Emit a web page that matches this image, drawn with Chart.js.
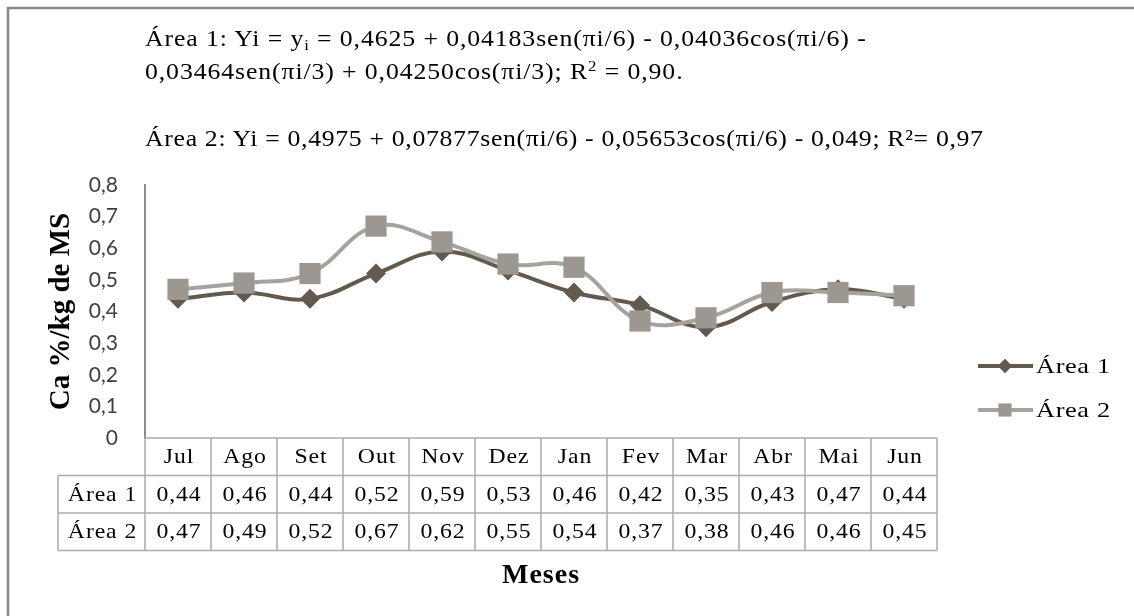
<!DOCTYPE html>
<html>
<head>
<meta charset="utf-8">
<script src="https://cdn.jsdelivr.net/npm/chart.js@4.4.1/dist/chart.umd.min.js"></script>
<style>
  html,body{margin:0;padding:0;background:#fff;}
  #wrap{position:relative;width:1134px;height:616px;overflow:hidden;}
  canvas{position:absolute;left:0;top:0;}
  .eq{position:absolute;left:145px;font-family:"Liberation Serif","Times New Roman",serif;
      font-size:23px;line-height:23px;color:#000;white-space:nowrap;letter-spacing:0.8px;
      transform:scaleX(1.12);transform-origin:0 0;}
  .eq sub{font-size:15px;vertical-align:-4px;line-height:0;}
  .eq sup{font-size:15px;vertical-align:8px;line-height:0;}
</style>
</head>
<body>
<div id="wrap">
  <canvas id="chart" width="1134" height="616"></canvas>
  <div class="eq" style="top:27px">Área 1: Yi = y<sub>i</sub> = 0,4625 + 0,04183sen(πi/6) - 0,04036cos(πi/6) -</div>
  <div class="eq" style="top:60px">0,03464sen(πi/3) + 0,04250cos(πi/3); R<sup>2</sup> = 0,90.</div>
  <div class="eq" style="top:127px;letter-spacing:0.6px">Área 2: Yi = 0,4975 + 0,07877sen(πi/6) - 0,05653cos(πi/6) - 0,049; R²= 0,97</div>
</div>
<script>
/* ========= DATA ========= */
const MONTHS = ["Jul","Ago","Set","Out","Nov","Dez","Jan","Fev","Mar","Abr","Mai","Jun"];
const AREA1  = [0.44,0.46,0.44,0.52,0.59,0.53,0.46,0.42,0.35,0.43,0.47,0.44];
const AREA2  = [0.47,0.49,0.52,0.67,0.62,0.55,0.54,0.37,0.38,0.46,0.46,0.45];
const Y_MIN = 0, Y_MAX = 0.8, Y_STEP = 0.1;

const C1 = "#625a4e", C2 = "#a6a39e", C2_MARK = "#9c9891";
const SERIF = '"Liberation Serif","Times New Roman",serif';
const fmt = v => v===0 ? "0" : v.toFixed(2).replace(".",",");

// wide text, like the original's stretched Times
function wideText(ctx, t, x, y, sx){
  ctx.save();
  ctx.translate(x, y);
  ctx.scale(sx, 1);
  ctx.fillText(t, 0, 0);
  ctx.restore();
}

/* ========= TABLE / LEGEND / FRAME ========= */
const extras = {
  id:"extras",
  afterDraw(chart){
    const {ctx, chartArea:a} = chart;
    const x = chart.scales.x;
    const n = MONTHS.length;
    const band = (a.right - a.left)/n;
    const rows = [a.bottom, a.bottom+37.5, a.bottom+75, a.bottom+112.5];
    const labelLeft = 58;

    ctx.save();
    // frame
    ctx.strokeStyle = "#888"; ctx.lineWidth = 2.5;
    ctx.beginPath(); ctx.moveTo(8,616); ctx.lineTo(8,8); ctx.lineTo(1134,8); ctx.stroke();

    // table grid
    ctx.strokeStyle = "#acacac"; ctx.lineWidth = 1.5;
    ctx.beginPath();
    ctx.moveTo(a.left, rows[0]); ctx.lineTo(a.right, rows[0]);
    for(let r=1;r<4;r++){ ctx.moveTo(labelLeft, rows[r]); ctx.lineTo(a.right, rows[r]); }
    ctx.moveTo(labelLeft, rows[1]); ctx.lineTo(labelLeft, rows[3]);
    for(let i=0;i<=n;i++){
      const px = a.left + i*band;
      ctx.moveTo(px, rows[0]); ctx.lineTo(px, rows[3]);
    }
    ctx.stroke();

    // table text
    ctx.fillStyle = "#000";
    ctx.font = "21px " + SERIF;
    ctx.textAlign = "center"; ctx.textBaseline = "middle";
    ctx.letterSpacing = "0.8px";
    const mid = r => (rows[r]+rows[r+1])/2 + 1;
    MONTHS.forEach((m,i)=>{
      const cx = x.getPixelForValue(i) + 1;
      wideText(ctx, m, cx, mid(0), 1.13);
      wideText(ctx, fmt(AREA1[i]), cx, mid(1), 1.13);
      wideText(ctx, fmt(AREA2[i]), cx, mid(2), 1.13);
    });
    wideText(ctx, chart.data.datasets[0].label, (labelLeft+a.left)/2 + 1, mid(1), 1.13);
    wideText(ctx, chart.data.datasets[1].label, (labelLeft+a.left)/2 + 1, mid(2), 1.13);

    // axis title
    ctx.font = "bold 28px " + SERIF;
    ctx.letterSpacing = "1px";
    ctx.fillText("Meses", 541, 576);

    // legend
    const leg = [[C1,C1,"rectRot",7,366],[C2,C2_MARK,"rect",9,410]];
    chart.data.datasets.forEach((ds,k)=>{
      const [lc,mc,ps,r,ly] = leg[k];
      ctx.strokeStyle = lc; ctx.lineWidth = 4;
      ctx.beginPath(); ctx.moveTo(978,ly); ctx.lineTo(1033,ly); ctx.stroke();
      ctx.fillStyle = mc;
      Chart.helpers.drawPoint(ctx,{pointStyle:ps,radius:r,borderWidth:0},1005,ly);
      ctx.fill();
      ctx.fillStyle = "#000";
      ctx.font = "22px " + SERIF;
      ctx.letterSpacing = "0.5px";
      ctx.textAlign = "left";
      wideText(ctx, ds.label, 1036, ly+1, 1.2);
    });
    ctx.restore();
  }
};

/* ========= CHART ========= */
new Chart(document.getElementById("chart"),{
  type:"line",
  data:{
    labels:MONTHS,
    datasets:[
      {label:"Área 1", data:AREA1, borderColor:C1, backgroundColor:C1, pointBackgroundColor:C1,
       pointStyle:"rectRot", pointRadius:10, pointHoverRadius:10, pointBorderWidth:0,
       borderWidth:4, tension:0.4, order:2},
      {label:"Área 2", data:AREA2, borderColor:C2, backgroundColor:C2_MARK, pointBackgroundColor:C2_MARK,
       pointStyle:"rect", pointRadius:15, pointHoverRadius:15, pointBorderWidth:0,
       borderWidth:4, tension:0.4, order:1}
    ]
  },
  options:{
    responsive:false,
    animation:false,
    events:[],
    layout:{padding:{left:0, top:185, right:197, bottom:178}},
    plugins:{legend:{display:false}, tooltip:{enabled:false}},
    elements:{line:{clip:false}},
    scales:{
      x:{type:"category", display:false, offset:true},
      y:{
        min:Y_MIN, max:Y_MAX,
        grid:{display:false, drawTicks:false},
        border:{display:true, color:"#8c8c8c", width:2},
        ticks:{stepSize:Y_STEP, padding:27, color:"#404040",
               font:{family:"Lato", size:21},
               callback:v => v===0 ? "0" : v.toFixed(1).replace(".",",")},
        title:{display:true, text:"Ca %/kg de MS", color:"#000",
               font:{family:SERIF, size:29, weight:"bold"},
               padding:{top:44, bottom:0}},
        afterFit(s){ s.width = 145; }
      }
    }
  },
  plugins:[extras]
});
</script>
</body>
</html>
